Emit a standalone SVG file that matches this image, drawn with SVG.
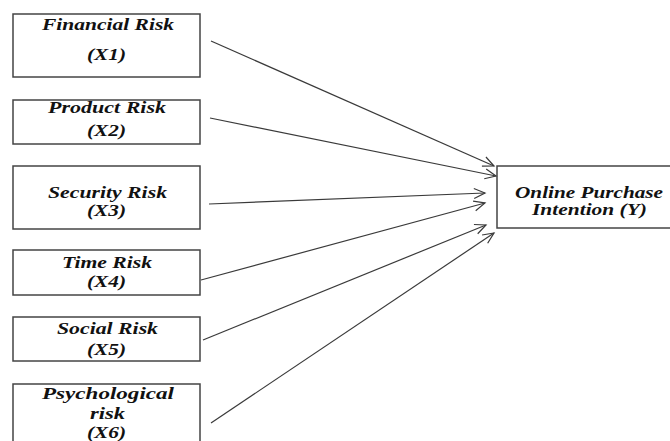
<svg xmlns="http://www.w3.org/2000/svg" width="670" height="441" viewBox="0 0 670 441">
<style>
.box{fill:#fff;stroke:#444;stroke-width:1.5}
.t{font-family:"Liberation Serif","Times New Roman",serif;font-weight:bold;font-style:italic;font-size:16px;fill:#111;text-anchor:middle}
.c line{stroke:#3a3a3a;stroke-width:1.2;marker-end:url(#ah)}
</style>
<defs>
<marker id="ah" markerUnits="userSpaceOnUse" markerWidth="14" markerHeight="12" viewBox="-12 -6 14 12" refX="0" refY="0" orient="auto">
<path d="M-11,-5 L0,0 L-11,5" fill="none" stroke="#3a3a3a" stroke-width="1.2"/>
</marker>
</defs>
<rect width="670" height="441" fill="#fff"/>
<g id="x1">
<rect class="box" x="13" y="14" width="187" height="63"/>
<text class="t" x="108" y="30" textLength="132" lengthAdjust="spacingAndGlyphs">Financial Risk</text>
<text class="t" x="106.5" y="60" textLength="39" lengthAdjust="spacingAndGlyphs">(X1)</text>
</g>
<g id="x2">
<rect class="box" x="13" y="100" width="187" height="44"/>
<text class="t" x="107" y="113" textLength="118" lengthAdjust="spacingAndGlyphs">Product Risk</text>
<text class="t" x="106.5" y="136" textLength="39" lengthAdjust="spacingAndGlyphs">(X2)</text>
</g>
<g id="x3">
<rect class="box" x="13" y="166" width="187" height="63"/>
<text class="t" x="107.5" y="198" textLength="119" lengthAdjust="spacingAndGlyphs">Security Risk</text>
<text class="t" x="106.5" y="216" textLength="39" lengthAdjust="spacingAndGlyphs">(X3)</text>
</g>
<g id="x4">
<rect class="box" x="13" y="250" width="187" height="45"/>
<text class="t" x="107" y="268" textLength="90" lengthAdjust="spacingAndGlyphs">Time Risk</text>
<text class="t" x="106.5" y="287" textLength="39" lengthAdjust="spacingAndGlyphs">(X4)</text>
</g>
<g id="x5">
<rect class="box" x="13" y="317" width="187" height="44"/>
<text class="t" x="107.5" y="334" textLength="101" lengthAdjust="spacingAndGlyphs">Social Risk</text>
<text class="t" x="106.5" y="355" textLength="39" lengthAdjust="spacingAndGlyphs">(X5)</text>
</g>
<g id="x6">
<rect class="box" x="13" y="384" width="187" height="70"/>
<text class="t" x="108" y="399" textLength="132" lengthAdjust="spacingAndGlyphs">Psychological</text>
<text class="t" x="107.5" y="419" textLength="35" lengthAdjust="spacingAndGlyphs">risk</text>
<text class="t" x="106.5" y="438" textLength="39" lengthAdjust="spacingAndGlyphs">(X6)</text>
</g>
<g id="y">
<rect class="box" x="497" y="166" width="175" height="62"/>
<text class="t" x="589" y="198" textLength="148" lengthAdjust="spacingAndGlyphs">Online Purchase</text>
<text class="t" x="589.5" y="215" textLength="115" lengthAdjust="spacingAndGlyphs">Intention (Y)</text>
</g>
<g class="c" id="connectors">
<line x1="211" y1="41" x2="494" y2="166"/>
<line x1="210" y1="118" x2="496" y2="176"/>
<line x1="209" y1="204" x2="485" y2="193"/>
<line x1="201" y1="280" x2="485" y2="203"/>
<line x1="203" y1="340" x2="486" y2="225"/>
<line x1="211" y1="423" x2="494" y2="233"/>
</g>
</svg>
